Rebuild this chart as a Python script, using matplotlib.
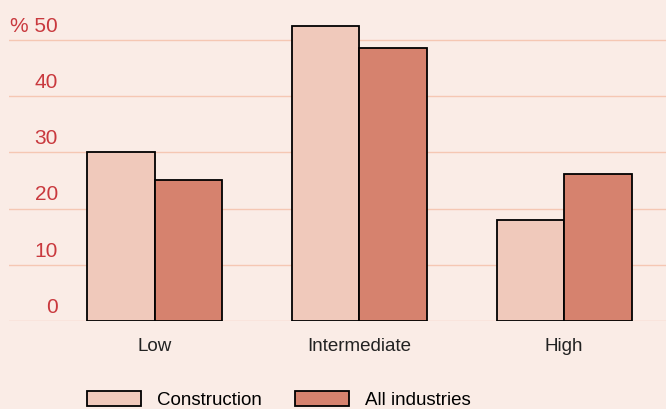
import matplotlib
matplotlib.use('Agg')
import matplotlib.pyplot as plt
import numpy as np

plt.rcParams['font.family'] = ['Liberation Sans', 'DejaVu Sans']

categories = ['Low', 'Intermediate', 'High']
construction = [30, 52.4, 18]
all_industries = [25.1, 48.6, 26.1]
yticks = [0, 10, 20, 30, 40, 50]

bg = '#faece6'
fig = plt.figure(figsize=(6.66, 4.09), dpi=100, facecolor=bg)
ax = fig.add_axes([9 / 666, 1 - 321 / 409, 657 / 666, 321 / 409], facecolor=bg)

x = np.arange(len(categories))
w = 0.33
ax.bar(x - w / 2, construction, w, color='#f0c9bb', edgecolor='black', linewidth=1.3,
       label='Construction', zorder=3)
ax.bar(x + w / 2, all_industries, w, color='#d6826e', edgecolor='black', linewidth=1.3,
       label='All industries', zorder=3)

ax.set_xlim(-0.712, 2.498)
ax.set_ylim(0, 57.1)
for y in yticks:
    ax.axhline(y, color='#f5c7b3', linewidth=1, zorder=1)
    lab = '% 50' if y == 50 else str(y)
    ax.text(49 / 657, y + 1.45, lab, transform=ax.get_yaxis_transform(),
            ha='right', va='baseline', color='#c9393e', fontsize=15)

ax.set_xticks(x)
ax.set_xticklabels(categories, fontsize=13.5, color='#222222')
ax.tick_params(axis='x', length=0, pad=12.5)
ax.set_yticks([])
for s in ax.spines.values():
    s.set_visible(False)

fig.legend(loc='lower left', bbox_to_anchor=(70 / 666, -0.042), ncol=2, frameon=False,
           fontsize=13.5, handlelength=2.9, handleheight=0.85, columnspacing=1.75,
           handletextpad=0.85)

plt.savefig('out.png', dpi=100, facecolor=bg)
